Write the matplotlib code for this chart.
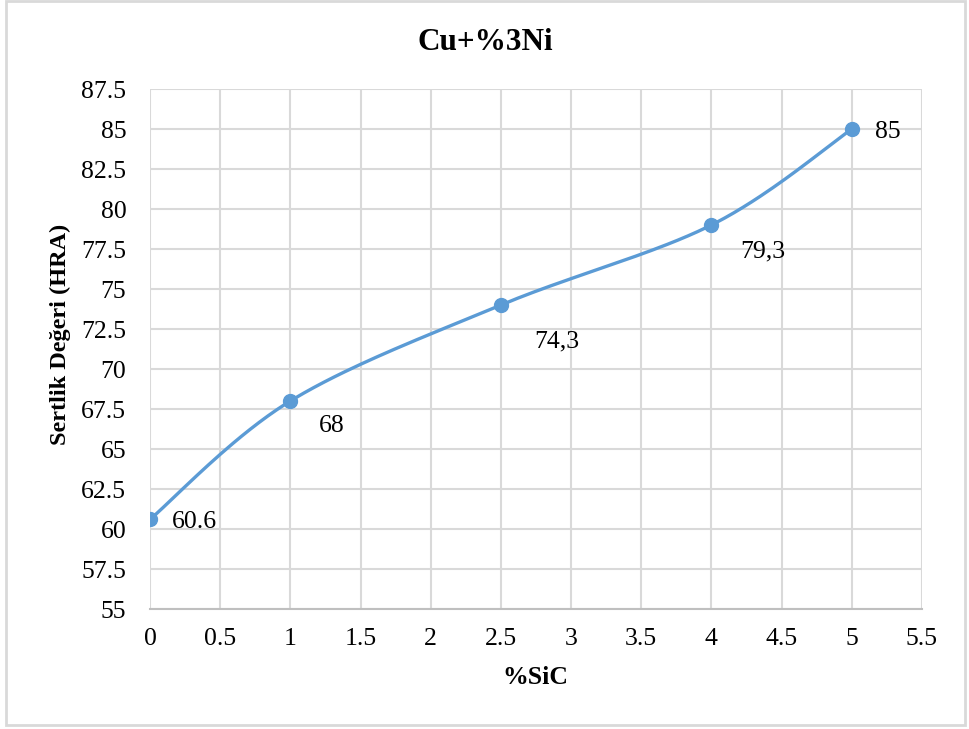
import numpy as np
import matplotlib.pyplot as plt
from matplotlib.patches import Rectangle

plt.rcParams['font.family'] = ['Liberation Serif', 'DejaVu Serif']

# data
sic = [0, 1, 2.5, 4, 5]
hra = [60.6, 68, 74, 79, 85]
point_labels = ['60.6', '68', '74,3', '79,3', '85']
x_ticks = np.arange(0, 5.51, 0.5)
y_ticks = np.arange(55, 87.51, 2.5)

def fmt(v):
    return ('%g' % v)

fig = plt.figure(figsize=(9.7, 7.29), dpi=100)
ax = fig.add_axes([0.1546, 0.1646, 0.7959, 0.7133])
ax.set_xlim(0, 5.5)
ax.set_ylim(55, 87.5)
ax.set_xticks(x_ticks)
ax.set_yticks(y_ticks)
ax.set_xticklabels([fmt(v) for v in x_ticks])
ax.set_yticklabels([fmt(v) for v in y_ticks])
ax.tick_params(length=0, labelsize=18.5, colors='#000000')
ax.tick_params(axis='x', pad=14)
ax.tick_params(axis='y', pad=17)
ax.grid(True, color='#d9d9d9', linewidth=1.5)
ax.set_axisbelow(True)
for s in ['top', 'right', 'left']:
    ax.spines[s].set_visible(False)
ax.spines['bottom'].set_color('#bfbfbf')
ax.spines['bottom'].set_linewidth(1.5)

# smoothed line (Excel-style bezier) computed in display space
pts = ax.transData.transform(np.column_stack([sic, hra]))
curve = []
n = len(pts)
for i in range(n - 1):
    p0 = pts[max(i - 1, 0)]
    p1 = pts[i]
    p2 = pts[i + 1]
    p3 = pts[min(i + 2, n - 1)]
    c1 = p1 + (p2 - p0) / 6
    c2 = p2 - (p3 - p1) / 6
    t = np.linspace(0, 1, 40)[:, None]
    seg = (1 - t) ** 3 * p1 + 3 * (1 - t) ** 2 * t * c1 + 3 * (1 - t) * t ** 2 * c2 + t ** 3 * p2
    curve.append(seg if i == 0 else seg[1:])
curve = ax.transData.inverted().transform(np.vstack(curve))

blue = '#5b9bd5'
ax.plot(curve[:, 0], curve[:, 1], color=blue, linewidth=2.4, solid_capstyle='round', zorder=3)
ax.plot(sic, hra, 'o', color=blue, markersize=10, zorder=4)

offsets = [(16, -2, 'left'), (30, -18, 'center'), (40, -26, 'center'), (37, -19, 'center'), (17, -2, 'left')]
for x, y, lab, (dx, dy, ha) in zip(sic, hra, point_labels, offsets):
    ax.annotate(lab, (x, y), xytext=(dx, dy), textcoords='offset points',
                ha=ha, va='center', fontsize=18.5)

fig.text(0.5, 0.942, 'Cu+%3Ni', ha='center', va='center', fontsize=22.5, fontweight='bold')
fig.text(0.552, 0.07, '%SiC', ha='center', va='center', fontsize=18.5, fontweight='bold')
fig.text(0.062, 0.542, 'Sertlik Değeri (HRA)', ha='center', va='center', fontsize=17.5,
         fontweight='bold', rotation=90)

fig.patches.append(Rectangle((0.006, 0.006), 0.989, 0.993, transform=fig.transFigure,
                             fill=False, edgecolor='#d9d9d9', linewidth=2))

fig.savefig('out.png', dpi=100)
